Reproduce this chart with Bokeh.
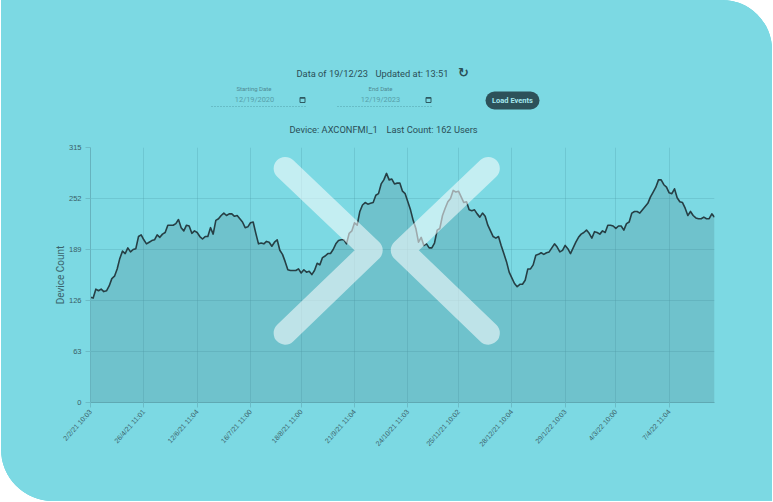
from bokeh.plotting import figure
from bokeh.layouts import column
from bokeh.models import Range1d, FixedTicker
from bokeh.core.properties import value
from bokeh.embed import file_html
from bokeh.resources import INLINE

device_count = [
130,129,140,138,140,137,138,144,153,156,165,178,187,184,191,186,189,190,205,207,201,
196,198,200,201,207,204,208,210,219,219,219,221,226,216,212,219,218,209,212,210,
205,202,205,205,216,208,225,227,231,234,231,233,233,230,231,227,223,216,217,222,
223,209,196,197,196,199,198,193,198,201,188,183,174,164,
163,163,163,165,160,164,161,162,158,163,172,170,179,181,184,184,189,196,200,201,201,196,209,212,222,219,
236,244,247,245,246,247,256,258,270,275,283,275,276,270,271,271,261,258,248,238,225,215,198,204,194,196,191,191,197,213,
215,231,240,248,252,262,260,261,254,247,248,238,237,238,233,229,234,230,219,212,205,203,205,194,184,174,161,
154,147,143,146,146,151,165,165,170,182,183,185,183,185,186,191,196,192,186,188,194,190,184,191,198,204,208,210,213,209,
203,211,210,208,212,210,219,219,218,215,218,218,213,221,223,234,236,236,234,238,242,246,254,260,266,275,275,269,266,259,
258,264,253,248,247,240,231,236,231,228,227,227,229,227,227,233,229,
]
tick_labels = ["2/2/21 10:03", "26/4/21 11:01", "12/6/21 11:04", "16/7/21 11:00", "18/8/21 11:00",
               "21/9/21 11:04", "24/10/21 11:03", "25/11/21 10:02", "28/12/21 10:04",
               "29/1/22 10:03", "4/3/22 10:00", "7/4/22 11:04"]
tick_index = [0, 20, 40, 60, 79, 99, 119, 138, 158, 178, 197, 217]
y_ticks = [0, 63, 126, 189, 252, 315]
chevron_left_x = [285, 371, 285]
chevron_right_x = [488, 402, 488]
chevron_y = [168, 250, 333]

BG = "#7cd9e3"
HDR = "#2b4f57"
HEADER_H = 138
n = len(device_count)
x = list(range(n))

# Header strip: the column lines its frame up with the chart's, so its ranges are page pixels
h = figure(width=771, height=HEADER_H, output_backend="svg", toolbar_location=None,
           x_range=Range1d(90, 714), y_range=Range1d(HEADER_H, 0),
           min_border=0, background_fill_color=BG, border_fill_color=BG, outline_line_color=None,
           styles={"background-color": BG})
h.axis.visible = False
h.grid.visible = False

def label(px, py, text, size, color, align="left", weight="normal", font="Roboto"):
    h.text([px], [py], text=[text], text_font=value(font), text_font_size=size, text_color=color,
           text_align=align, text_baseline="middle", text_font_style=weight)

for left, right in ((211, 307), (337, 433)):
    h.line([left, right], [106, 106], line_color="#55a0aa", line_dash=[1, 2], line_width=1)
for cx in (302, 428):
    h.rect([cx], [99.5], 5, 5, fill_color=BG, line_color="#2f5a62", line_width=1)
    h.line([cx - 2.5, cx + 2.5], [97.5, 97.5], line_color="#2f5a62", line_width=1.5)
h.line([494, 530], [100, 100], line_color="#2d525a", line_width=18, line_cap="round")

label(296, 72.5, "Data of 19/12/23", "9.3px", HDR)
label(375, 72.5, "Updated at: 13:51", "9.3px", HDR)
label(463, 72, "\u21bb", "13px", HDR, align="center", weight="bold", font="DejaVu Sans")
label(289, 129, "Device: AXCONFMI_1", "9.3px", HDR)
label(386, 129, "Last Count: 162 Users", "9.3px", HDR)
label(253.5, 88, "Starting Date", "6px", "#4f8a93", align="center")
label(380, 88, "End Date", "6px", "#4f8a93", align="center")
label(254, 98.5, "12/19/2020", "7.4px", "#57a0aa", align="center")
label(380, 98.5, "12/19/2023", "7.4px", "#57a0aa", align="center")
label(512, 100, "Load Events", "7.5px", "#a4e8ef", align="center", weight="bold")

p = figure(width=771, height=501 - HEADER_H, output_backend="svg", toolbar_location=None,
           x_range=Range1d(0, n - 1), y_range=Range1d(0, 315),
           min_border_left=89, min_border_right=58, min_border_top=147 - HEADER_H, min_border_bottom=99,
           background_fill_color=BG, border_fill_color=BG, outline_line_color=None,
           styles={"background-color": BG})

p.extra_x_ranges = {"px": Range1d(90.5, 714)}
p.extra_y_ranges = {"px": Range1d(402.5, 147)}

p.varea(x, [0] * n, device_count, fill_color="#4a7f8c", fill_alpha=0.26)
p.line(x, device_count, line_color="#263f45", line_width=1.6, line_join="round")

for xs in (chevron_left_x, chevron_right_x):
    p.line(xs, chevron_y, x_range_name="px", y_range_name="px", line_color="white",
           line_alpha=0.55, line_width=23, line_cap="round", line_join="round", level="overlay")

ax = p.xaxis[0]
ax.ticker = FixedTicker(ticks=tick_index)
ax.major_label_overrides = dict(zip(tick_index, tick_labels))
ax.major_label_orientation = 0.84
ax.major_label_text_font = "Liberation Sans"
ax.major_label_text_font_size = "7px"
ax.major_label_text_color = "#3a6068"
ax.major_label_standoff = 3
ax.axis_line_color = "#5fa9b3"
ax.major_tick_line_color = "#6cbcc7"
ax.major_tick_in = 0
ax.major_tick_out = 5
ax.minor_tick_line_color = None

ay = p.yaxis[0]
ay.ticker = FixedTicker(ticks=y_ticks)
ay.major_label_text_font = "Liberation Sans"
ay.major_label_text_font_size = "7.5px"
ay.major_label_text_color = "#3a6068"
ay.major_label_standoff = 4
ay.axis_line_color = "#66b3be"
ay.major_tick_line_color = "#6cbcc7"
ay.major_tick_in = 0
ay.major_tick_out = 5
ay.minor_tick_line_color = None
ay.axis_label = "Device Count"
ay.axis_label_text_font = "Roboto"
ay.axis_label_text_font_style = "normal"
ay.axis_label_text_font_size = "10px"
ay.axis_label_text_color = "#3a636b"
ay.axis_label_standoff = 0

for g in (p.xgrid[0], p.ygrid[0]):
    g.grid_line_color = "#4a9aa6"
    g.grid_line_alpha = 0.28
    g.grid_line_width = 1

page = column(h, p, spacing=0,
              styles={"position": "fixed", "left": "1px", "top": "0px", "background-color": BG,
                      "border-radius": "0 50px 0 52px", "overflow": "hidden"})

open("out.html", "w").write(file_html(page, INLINE))
